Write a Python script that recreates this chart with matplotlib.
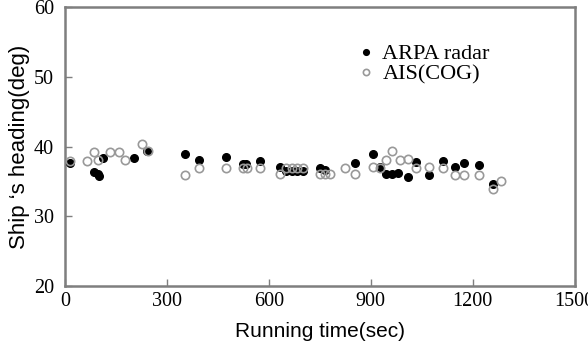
import matplotlib.pyplot as plt

# ARPA radar heading (filled markers)
arpa_t = [16, 84, 96, 101, 111, 202, 240, 353, 395, 474, 524, 532, 573,
          632, 650, 667, 683, 701, 750, 765, 853, 907, 926, 946, 961, 980,
          1010, 1034, 1071, 1111, 1147, 1174, 1219, 1260]
arpa_h = [37.6, 36.4, 36.0, 35.8, 38.3, 38.4, 39.4, 39.0, 38.1, 38.5, 37.5, 37.5, 37.9,
          37.1, 36.5, 36.5, 36.5, 36.5, 36.9, 36.6, 37.6, 39.0, 37.1, 36.0, 36.0, 36.2,
          35.7, 37.8, 35.9, 37.9, 37.1, 37.7, 37.3, 34.6]

# AIS course over ground (open markers)
ais_t = [16, 65, 86, 97, 132, 158, 177, 228, 244, 353, 395, 474, 524, 536, 573,
         632, 650, 667, 683, 701, 750, 765, 779, 824, 853, 907, 926, 946, 963,
         985, 1008, 1034, 1071, 1111, 1147, 1174, 1219, 1260, 1284]
ais_h = [37.9, 37.9, 39.2, 38.1, 39.2, 39.2, 38.1, 40.3, 39.3, 35.9, 36.9, 36.9, 36.9, 36.9, 36.9,
         36.0, 36.9, 36.9, 36.9, 36.9, 36.0, 36.0, 36.0, 36.9, 36.0, 37.1, 36.9, 38.1, 39.3,
         38.1, 38.2, 36.9, 37.1, 36.9, 35.9, 35.9, 35.9, 33.9, 35.0]

fig = plt.figure(figsize=(5.88, 3.54), dpi=100)
ax = fig.add_axes([0.1105, 0.192, 0.867, 0.788])

ax.plot(arpa_t, arpa_h, 'o', color='black', markersize=5.5, label='ARPA radar', zorder=3)
ax.plot(ais_t, ais_h, 'o', markerfacecolor='none', markeredgecolor='#999999',
        markeredgewidth=1.2, markersize=6, label='AIS(COG)', zorder=4)

ax.set_xlim(0, 1500)
ax.set_ylim(20, 60)
ax.set_xticks([0, 300, 600, 900, 1200, 1500])
ax.set_yticks([20, 30, 40, 50, 60])

for s in ax.spines.values():
    s.set_color('#7f7f7f')
    s.set_linewidth(1.8)

ax.tick_params(direction='in', length=5, width=1, color='#7f7f7f',
               top=False, right=False, labelsize=14.5)
ax.tick_params(axis='y', pad=8)
ax.tick_params(axis='x', pad=4)
for lbl in ax.get_xticklabels() + ax.get_yticklabels():
    lbl.set_family('Liberation Serif')

ax.set_xlabel('Running time(sec)', family='Liberation Sans', fontsize=15, labelpad=8)
ax.set_ylabel('Ship \u2018s heading(deg)', family='Liberation Sans', fontsize=16, labelpad=3)

leg = ax.legend(loc='upper left', bbox_to_anchor=(0.54, 0.94), frameon=False,
                prop={'family': 'Liberation Serif', 'size': 16},
                handlelength=0.5, handletextpad=0.5, labelspacing=0.0, markerscale=0.75)

fig.savefig('out.png', dpi=100)
